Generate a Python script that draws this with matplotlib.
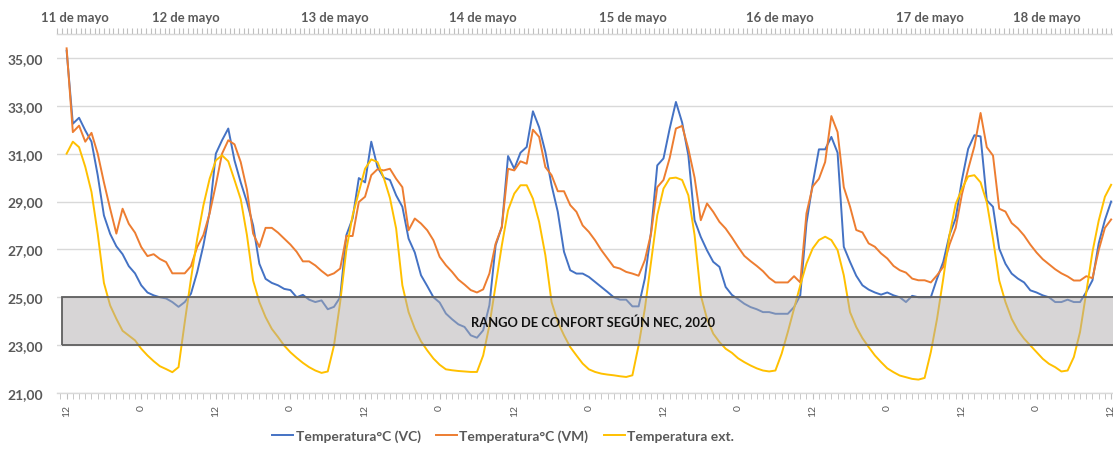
import matplotlib
matplotlib.use("Agg")
import matplotlib.pyplot as plt
from matplotlib.patches import Rectangle
from matplotlib.ticker import MultipleLocator
import matplotlib.transforms as mtransforms

plt.rcParams['font.family'] = ['Lato', 'DejaVu Sans']

# ---------------- data ----------------
start_hour = 12  # first reading at 12:00 of 11 de mayo, hourly readings
temp_vc = [35.3, 32.25, 32.5, 31.97, 31.5, 30.1, 28.42, 27.65, 27.13, 26.8,
           26.3, 26.0, 25.5, 25.2, 25.08, 25.0, 24.95, 24.8, 24.6, 24.8,
           25.15, 26.05, 27.17, 28.56, 31.0, 31.56, 32.05, 30.72, 29.8, 28.98,
           28.0, 26.4, 25.77, 25.6, 25.5, 25.35, 25.3, 25.0, 25.1, 24.9,
           24.8, 24.87, 24.5, 24.6, 25.0, 27.6, 28.3, 29.98, 29.8, 31.5,
           30.44, 30.0, 29.9, 29.26, 28.78, 27.45, 26.87, 25.92, 25.47, 25.0,
           24.78, 24.32, 24.08, 23.87, 23.76, 23.41, 23.31, 23.62, 24.67, 27.17,
           27.94, 30.9, 30.37, 31.04, 31.28, 32.77, 32.1, 31.07, 29.68, 28.57,
           26.9, 26.13, 25.99, 25.99, 25.85, 25.64, 25.43, 25.22, 25.0, 24.9,
           24.9, 24.62, 24.62, 25.78, 27.73, 30.51, 30.8, 32.05, 33.16, 32.3,
           30.93, 28.22, 27.52, 26.96, 26.48, 26.27, 25.43, 25.1, 24.92, 24.73,
           24.59, 24.5, 24.38, 24.38, 24.31, 24.31, 24.31, 24.59, 25.08, 28.1,
           29.75, 31.18, 31.18, 31.7, 31.04, 27.11, 26.48, 25.9, 25.5, 25.32,
           25.2, 25.11, 25.2, 25.08, 25.0, 24.8, 25.06, 25.0, 25.0, 25.0,
           25.78, 26.48, 27.6, 28.3, 29.9, 31.2, 31.77, 31.72, 29.05, 28.78,
           27.03, 26.4, 25.99, 25.78, 25.62, 25.29, 25.2, 25.08, 25.0, 24.8,
           24.8, 24.9, 24.8, 24.8, 25.22, 25.71, 27.25, 28.23, 29.0]

temp_vm = [35.4, 31.9, 32.17, 31.5, 31.87, 31.0, 29.8, 28.7, 27.66, 28.7,
           28.07, 27.7, 27.1, 26.72, 26.8, 26.6, 26.47, 26.0, 26.0, 26.0,
           26.3, 27.1, 27.6, 28.5, 29.7, 31.0, 31.56, 31.39, 30.65, 29.5,
           27.66, 27.1, 27.9, 27.9, 27.7, 27.45, 27.2, 26.9, 26.5, 26.5,
           26.33, 26.1, 25.9, 26.0, 26.2, 27.56, 27.56, 28.98, 29.2, 30.1,
           30.35, 30.3, 30.37, 29.95, 29.6, 27.8, 28.29, 28.08, 27.8, 27.38,
           26.69, 26.34, 26.06, 25.74, 25.53, 25.3, 25.2, 25.33, 25.99, 27.24,
           27.94, 30.37, 30.3, 30.68, 30.58, 32.0, 31.7, 30.44, 30.1, 29.43,
           29.43, 28.85, 28.57, 28.0, 27.73, 27.38, 26.97, 26.62, 26.27, 26.2,
           26.06, 25.99, 25.9, 26.55, 27.66, 29.6, 29.9, 30.82, 32.05, 32.16,
           31.2, 30.0, 28.22, 28.92, 28.57, 28.15, 27.87, 27.5, 27.1, 26.73,
           26.51, 26.31, 26.09, 25.81, 25.62, 25.62, 25.62, 25.88, 25.62, 28.51,
           29.63, 29.95, 30.65, 32.57, 31.9, 29.6, 28.79, 27.81, 27.71, 27.25,
           27.11, 26.83, 26.62, 26.31, 26.13, 26.03, 25.78, 25.71, 25.71, 25.62,
           25.92, 26.27, 27.2, 27.9, 29.3, 30.35, 31.3, 32.7, 31.27, 30.92,
           28.7, 28.58, 28.1, 27.88, 27.58, 27.2, 26.87, 26.59, 26.38, 26.17,
           26.0, 25.87, 25.7, 25.7, 25.88, 25.8, 26.97, 27.9, 28.25]

temp_ext = [31.0, 31.5, 31.27, 30.45, 29.4, 27.66, 25.6, 24.66, 24.1, 23.6,
            23.4, 23.2, 22.85, 22.57, 22.33, 22.12, 22.0, 21.87, 22.08, 23.96,
            25.77, 27.44, 28.84, 29.95, 30.72, 30.93, 30.68, 29.9, 29.1, 27.6,
            25.7, 24.8, 24.17, 23.68, 23.34, 22.98, 22.7, 22.47, 22.26, 22.08,
            21.94, 21.84, 21.9, 22.98, 24.8, 27.0, 28.42, 29.4, 30.37, 30.76,
            30.65, 30.0, 29.15, 27.87, 25.5, 24.38, 23.69, 23.16, 22.78, 22.44,
            22.18, 21.99, 21.95, 21.92, 21.9, 21.88, 21.88, 22.57, 23.83, 25.5,
            27.17, 28.64, 29.33, 29.68, 29.68, 29.12, 28.15, 26.76, 24.8, 23.97,
            23.41, 22.92, 22.57, 22.23, 21.99, 21.88, 21.81, 21.77, 21.74, 21.7,
            21.67, 21.74, 22.99, 24.52, 26.48, 28.43, 29.54, 29.97, 30.0, 29.9,
            29.26, 27.6, 25.08, 24.1, 23.48, 23.13, 22.85, 22.68, 22.45, 22.29,
            22.15, 22.03, 21.94, 21.9, 21.94, 22.64, 23.55, 24.52, 25.5, 26.41,
            27.04, 27.39, 27.53, 27.39, 26.97, 25.92, 24.38, 23.76, 23.29, 22.92,
            22.57, 22.29, 22.03, 21.87, 21.73, 21.66, 21.59, 21.56, 21.63, 22.71,
            24.1, 25.78, 27.6, 28.9, 29.52, 30.05, 30.1, 29.8, 28.97, 27.44,
            25.7, 24.8, 24.1, 23.62, 23.27, 22.99, 22.71, 22.43, 22.22, 22.08,
            21.9, 21.94, 22.5, 23.55, 25.2, 26.9, 28.2, 29.2, 29.7]

series_names = ["Temperatura°C (VC)", "Temperatura°C (VM)", "Temperatura ext."]
day_labels = ["11 de mayo", "12 de mayo", "13 de mayo", "14 de mayo",
              "15 de mayo", "16 de mayo", "17 de mayo", "18 de mayo"]
comfort_low, comfort_high = 23.0, 25.0
comfort_label = "RANGO DE CONFORT SEGÚN NEC, 2020"
y_ticks = [21, 23, 25, 27, 29, 31, 33, 35]

# ---------------- layout / style ----------------
n = len(temp_vc)
x = list(range(n))
hour_of_day = [(start_hour + i) % 24 for i in x]
day_label_x = [1.3, 19.2, 43.1, 67.0, 91.0, 114.7, 138.8, 157.7]

colors = ["#4472C4", "#ED7D31", "#FFC000"]
gray_txt = "#595959"

fig = plt.figure(figsize=(11.13, 4.52), dpi=100)
ax = fig.add_axes([0.0512, 0.1283, 0.9488, 0.7943])

for vals, c, name in zip([temp_vc, temp_vm, temp_ext], colors, series_names):
    ax.plot(x, vals, color=c, lw=1.4, label=name, zorder=3)

xmin, xmax = -1.55, 168.3
ax.set_xlim(xmin, xmax)
ax.set_ylim(21, 36)

# comfort band (semi transparent, over lines)
band = Rectangle((-0.75, comfort_low), xmax + 5, comfort_high - comfort_low,
                 facecolor="#B0ADAE", alpha=0.5, edgecolor="none", zorder=4)
ax.add_patch(band)
band_edge = Rectangle((-0.75, comfort_low), xmax + 5, comfort_high - comfort_low,
                      facecolor="none", edgecolor="#5f5f5f", lw=1.3, zorder=5)
ax.add_patch(band_edge)
ax.text(84.6, (comfort_low + comfort_high) / 2, comfort_label, ha="center",
        va="center", fontsize=9.3, fontweight="bold", color="#111111", zorder=6)

# y axis
ax.set_yticks(y_ticks)
ax.set_yticklabels([f"{v:.2f}".replace(".", ",") for v in y_ticks],
                   fontsize=10, fontweight="bold", color=gray_txt)
ax.tick_params(axis="y", length=0, pad=10)
ax.grid(axis="y", color="#D9D9D9", lw=1.0, zorder=0)
ax.set_axisbelow(True)

# x axis
label_pos = [i for i in x if hour_of_day[i] in (0, 12)]
ax.set_xticks(label_pos)
ax.set_xticklabels([str(hour_of_day[i]) for i in label_pos], rotation=90,
                   fontsize=7.5, color=gray_txt)
ax.xaxis.set_minor_locator(MultipleLocator(1))
ax.tick_params(axis="x", which="both", length=4, color="#BFBFBF", pad=4)

for s in ["left", "right"]:
    ax.spines[s].set_visible(False)
for s in ["top", "bottom"]:
    ax.spines[s].set_color("#D9D9D9")
    ax.spines[s].set_linewidth(1.0)

# top secondary axis with ticks only
ax2 = ax.twiny()
ax2.set_xlim(xmin, xmax)
ax2.xaxis.set_major_locator(MultipleLocator(0.75))
ax2.set_xticklabels([])
ax2.tick_params(axis="x", which="both", length=4, color="#BFBFBF", direction="out")
for s in ["left", "right", "bottom"]:
    ax2.spines[s].set_visible(False)
ax2.spines["top"].set_color("#D9D9D9")

trans = mtransforms.blended_transform_factory(ax.transData, ax.transAxes)
for lbl, xp in zip(day_labels, day_label_x):
    ax.text(xp, 1.047, lbl, transform=trans, ha="center", va="center",
            fontsize=9.4, fontweight="bold", color=gray_txt, clip_on=False)

leg = fig.legend(*ax.get_legend_handles_labels(), loc="center",
                 bbox_to_anchor=(0.452, 0.033), ncol=3, frameon=False,
                 fontsize=10, handlelength=1.5, columnspacing=1.1,
                 handletextpad=0.2)
for t in leg.get_texts():
    t.set_color(gray_txt)
    t.set_fontweight("bold")

fig.savefig("out.png", dpi=100)
